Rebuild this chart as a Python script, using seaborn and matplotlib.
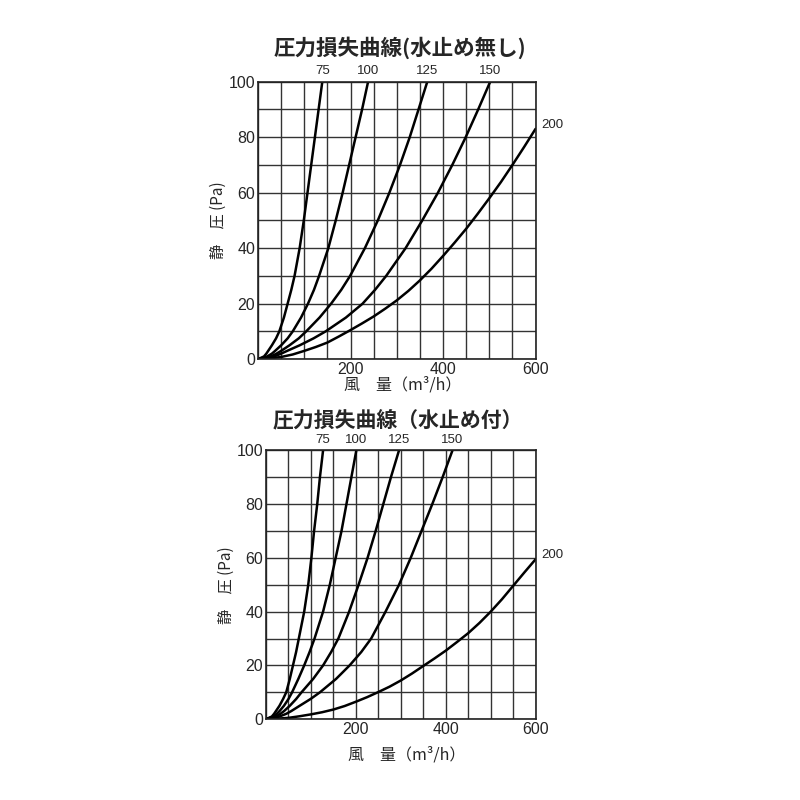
import pandas as pd
import seaborn as sns
import matplotlib.pyplot as plt
from matplotlib.ticker import MultipleLocator

# 静圧レベル (Pa) — 75〜150 の曲線はこの圧力での風量を読み取り
pa_levels = [0, 1, 2, 3, 5, 7.5, 10, 15, 20, 25, 30, 40, 50, 60, 70, 80, 90, 100]
# 200 の曲線は風量ごとの静圧を読み取り
q_levels = [0, 25, 50, 75, 100, 125, 150, 175, 200, 225, 250, 275, 300,
            325, 350, 375, 400, 425, 450, 475, 500, 525, 550, 575, 600]

# 上：水止め無し (風量 m3/h)
top_75 = [0, 13, 18, 22, 30, 39, 46, 56, 64, 72, 79, 90, 99, 107, 115, 123, 131, 139]
top_100 = [0, 20, 30, 37, 50, 64, 75, 93, 108, 121, 132, 152, 168, 183, 197, 211, 225, 238]
top_125 = [0, 28, 40, 50, 68, 88, 104, 133, 158, 180, 199, 231, 259, 284, 307, 328, 347, 366]
top_150 = [0, 35, 50, 63, 90, 120, 146, 190, 226, 253, 277, 319, 355, 389, 420, 449, 476, 502]
top_200_pa = [0, 0.3, 0.8, 1.7, 3, 4.4, 6, 8.2, 10.5, 12.9, 15.4, 18.2, 21.2,
              24.6, 28.4, 32.6, 37.2, 42, 47, 52.4, 58, 63.8, 70, 76.4, 83]

# 下：水止め付
bot_75 = [0, 13, 18, 22, 30, 38, 45, 53, 60, 67, 73, 85, 94, 101, 107, 114, 120, 127]
bot_100 = [0, 17, 24, 30, 40, 50, 58, 72, 85, 97, 108, 127, 142, 155, 168, 179, 190, 201]
bot_125 = [0, 22, 32, 40, 53, 67, 79, 105, 127, 145, 161, 185, 206, 226, 244, 261, 278, 296]
bot_150 = [0, 30, 45, 56, 75, 99, 120, 156, 186, 212, 234, 266, 296, 322, 346, 370, 393, 415]
bot_200_pa = [0, 0.2, 0.5, 1.1, 1.8, 2.6, 3.6, 4.9, 6.5, 8.2, 10.1, 12.1, 14.4,
              17, 19.8, 22.6, 25.5, 28.7, 32, 35.8, 40, 44.6, 49.6, 54.6, 59.5]

sizes = ['75', '100', '125', '150']

sns.set_theme(style="white")
plt.rcParams['font.family'] = ['Liberation Sans', 'Noto Sans CJK JP', 'DejaVu Sans']
cjk = ['Noto Sans CJK JP', 'DejaVu Sans']


def make_df(curves, pa_200):
    rows = []
    for name, qs in zip(sizes, curves):
        for q, p in zip(qs, pa_levels):
            rows.append({'size': name, 'q': q, 'pa': p})
    for q, p in zip(q_levels, pa_200):
        rows.append({'size': '200', 'q': q, 'pa': p})
    return pd.DataFrame(rows)


def draw(ax, df):
    sns.lineplot(data=df, x='q', y='pa', units='size', estimator=None, sort=False,
                 color='black', linewidth=1.8, ax=ax)
    ax.set_xlim(0, 600)
    ax.set_ylim(0, 100)
    ax.xaxis.set_major_locator(MultipleLocator(200))
    ax.xaxis.set_minor_locator(MultipleLocator(50))
    ax.yaxis.set_major_locator(MultipleLocator(20))
    ax.yaxis.set_minor_locator(MultipleLocator(10))
    ax.grid(which='both', color='#333333', linewidth=1.0)
    ax.set_xticks([200, 400, 600])
    ax.tick_params(which='both', length=0, labelsize=11.5, pad=2)
    for s in ax.spines.values():
        s.set_color('#222222')
        s.set_linewidth(1.2)
    ax.set_xlabel('')
    ax.set_ylabel('')
    # 曲線ラベル
    for name in sizes:
        sub = df[df['size'] == name]
        ax.annotate(name, (sub['q'].iloc[-1], sub['pa'].iloc[-1]), xytext=(0, 3),
                    textcoords='offset points', ha='center', va='bottom',
                    fontsize=9.5, annotation_clip=False)
    sub = df[df['size'] == '200']
    ax.annotate('200', (sub['q'].iloc[-1], sub['pa'].iloc[-1]), xytext=(4, 3),
                textcoords='offset points', ha='left', va='center',
                fontsize=9.5, annotation_clip=False)


fig = plt.figure(figsize=(8, 8), dpi=100)
ax1 = fig.add_axes([0.3225, 0.551, 0.347, 0.347])
ax2 = fig.add_axes([0.3325, 0.101, 0.337, 0.336])

draw(ax1, make_df([top_75, top_100, top_125, top_150], top_200_pa))
draw(ax2, make_df([bot_75, bot_100, bot_125, bot_150], bot_200_pa))

fig.text(0.5, 0.94, '圧力損失曲線(水止め無し)', ha='center', va='center',
         fontsize=15.5, fontweight='bold', family=cjk)
fig.text(0.497, 0.475, '圧力損失曲線（水止め付）', ha='center', va='center',
         fontsize=15, fontweight='bold', family=cjk)

fig.text(0.503, 0.519, '風　量（m³/h）', ha='center', va='center',
         fontsize=11.5, family=cjk)
fig.text(0.508, 0.056, '風　量（m³/h）', ha='center', va='center',
         fontsize=11.5, family=cjk)

fig.text(0.2725, 0.725, '静　圧 (Pa)', ha='center', va='center', rotation=90,
         fontsize=11, family=cjk)
fig.text(0.2825, 0.269, '静　圧 (Pa)', ha='center', va='center', rotation=90,
         fontsize=11, family=cjk)

plt.savefig('out.png', dpi=100)
